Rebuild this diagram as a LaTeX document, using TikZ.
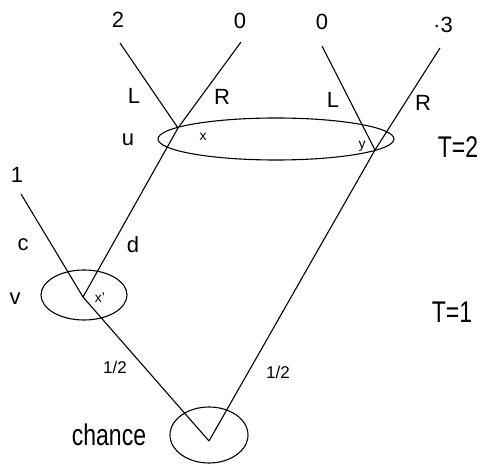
\documentclass[tikz,border=0pt]{standalone}
\usepackage{fontspec}
\setmainfont{Liberation Sans}
\usetikzlibrary{shapes.geometric}
\tikzset{
  infoset/.style={ellipse, draw, line width=1.1pt, inner sep=0pt, outer sep=0pt},
  move/.style={line width=1.1pt},
  lbl/.style={font=\fontsize{22}{22}\selectfont, inner sep=0pt},
  vname/.style={font=\fontsize{14}{14}\selectfont, inner sep=0pt},
  prob/.style={font=\fontsize{17}{17}\selectfont, inner sep=0pt},
  period/.style={font=\fontsize{23}{23}\selectfont, yscale=1.3, inner sep=0pt}
}

\begin{document}
\begin{tikzpicture}[x=1pt, y=-1pt]
  \useasboundingbox (0,0) rectangle (483,465);

  % information sets
  \node[infoset, minimum width=78pt, minimum height=56pt] (chance) at (209,435) {};
  \node[infoset, minimum width=86pt, minimum height=50pt] (vset) at (84,295) {};
  \node[infoset, minimum width=236pt, minimum height=42pt] (uset) at (276,139) {};

  % decision points and ends
  \coordinate (c0) at (209,441);
  \coordinate (xp) at (83,297);
  \coordinate (x) at (178,128);
  \coordinate (y) at (375,150);
  \coordinate (t1) at (21,194);
  \coordinate (t2) at (120,43);
  \coordinate (t3) at (241,42);
  \coordinate (t4) at (322,46);
  \coordinate (t5) at (440,48);

  \draw[move] (c0) -- (xp);
  \draw[move] (c0) -- (y);
  \draw[move] (xp) -- (t1);
  \draw[move] (xp) -- (x);
  \draw[move] (x) -- (t2);
  \draw[move] (x) -- (t3);
  \draw[move] (y) -- (t4);
  \draw[move] (y) -- (t5);

  % payoffs
  \node[lbl] (p2) at (118,20) {2};
  \node[lbl] (p3) at (240,21) {0};
  \node[lbl] (p4) at (322,22) {0};
  \node[lbl] (p5) at (443,25) {·3};
  \node[lbl] (p1) at (17,175) {1};

  % moves
  \node[lbl] (lx) at (134,96) {L};
  \node[lbl] (rx) at (222,97) {R};
  \node[lbl] (ly) at (333,100) {L};
  \node[lbl] (ry) at (423,103) {R};
  \node[lbl] (mc) at (23,245) {c};
  \node[lbl] (md) at (133,245) {d};
  \node[prob] (hl) at (115,367) {1/2};
  \node[prob] (hr) at (278,372) {1/2};

  % players and points
  \node[lbl] (pu) at (128,140) {u};
  \node[lbl] (pv) at (15,299) {v};
  \node[vname] (nx) at (203,137) {x};
  \node[vname] (ny) at (362,146) {y};
  \node[vname] (nxp) at (100,298) {x'};
  \node[period] (nch) at (109,435) {chance};

  % periods
  \node[period] (T2) at (458,147) {T=2};
  \node[period] (T1) at (452,312) {T=1};
\end{tikzpicture}
\end{document}
